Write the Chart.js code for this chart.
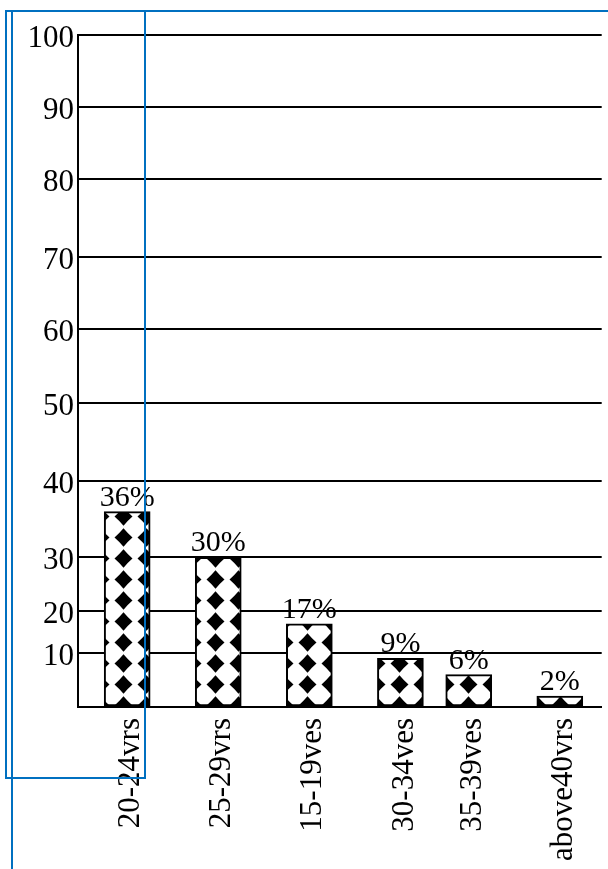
<!DOCTYPE html>
<html>
<head>
<meta charset="utf-8">
<script src="https://cdn.jsdelivr.net/npm/chart.js@4.4.1/dist/chart.umd.min.js"></script>
<style>
  html, body { margin: 0; padding: 0; background: #fff; overflow: hidden; }
  #wrap { position: relative; width: 608px; height: 869px; }
  canvas { display: block; }
  .frame { position: absolute; box-sizing: border-box; border: 2px solid #0070c0; }
</style>
</head>
<body>
<div id="wrap">
  <canvas id="ageChart" width="608" height="869"></canvas>
  <div class="frame" style="left:5px;top:10px;width:141px;height:769px"></div>
  <div class="frame" style="left:11px;top:10px;width:640px;height:900px"></div>
</div>
<script>
const ageGroups = ["20-24vrs", "25-29vrs", "15-19ves", "30-34ves", "35-39ves", "above40vrs"];
const shares = [36, 30, 17, 9, 6, 2];
const yTicks = [0, 10, 20, 30, 40, 50, 60, 70, 80, 90, 100];

// the original axis is hand drawn, so the ticks are not evenly spaced:
// a linear scale that interpolates between the tick positions
class StepScale extends Chart.LinearScale {
  getPixelForValue(value) {
    if (value === null || isNaN(value)) return NaN;
    const vals = this.options.stopValues;
    const pos = this.options.stopPositions;
    let i = 1;
    while (i < vals.length - 1 && value > vals[i]) i++;
    const t = (value - vals[i - 1]) / (vals[i] - vals[i - 1]);
    return this.getPixelForDecimal(pos[i - 1] + t * (pos[i] - pos[i - 1]));
  }
  getValueForPixel(pixel) {
    const d = this.getDecimalForPixel(pixel);
    const vals = this.options.stopValues;
    const pos = this.options.stopPositions;
    let i = 1;
    while (i < pos.length - 1 && d > pos[i]) i++;
    const t = (d - pos[i - 1]) / (pos[i] - pos[i - 1]);
    return vals[i - 1] + t * (vals[i] - vals[i - 1]);
  }
}
StepScale.id = "step";
StepScale.defaults = Chart.LinearScale.defaults;

// category axis where the gap between two categories can differ
class GapCategoryScale extends Chart.CategoryScale {
  getPixelForValue(value) {
    if (typeof value !== "number") value = this.parse(value);
    if (value === null) return NaN;
    const gaps = this.options.gaps;
    const [padLeft, padRight] = this.options.edges;
    let pos = padLeft;
    let total = padLeft + padRight;
    for (let i = 0; i < this.getLabels().length - 1; i++) {
      if (i < value) pos += gaps[i];
      total += gaps[i];
    }
    return this.getPixelForDecimal(pos / total);
  }
}
GapCategoryScale.id = "gapcategory";
GapCategoryScale.defaults = Chart.CategoryScale.defaults;

Chart.register(StepScale, GapCategoryScale);

// black diamonds with slightly hollow sides, soft edges
function makePattern(ctx) {
	const w = 23;
	const h = 21;
	const tile = document.createElement("canvas");
	tile.width = w;
	tile.height = h;
	const t = tile.getContext("2d");
	t.fillStyle = "#fff";
	t.fillRect(0, 0, w, h);
	t.filter = "blur(0.6px)";
	t.fillStyle = "#000";
	const cx = w / 2;
	const cy = h / 2;
	const rx = 9;
	const ry = 9.2;
	const k = 0.46;
	t.beginPath();
	t.moveTo(cx, cy - ry);
	t.quadraticCurveTo(cx + rx * k, cy - ry * k, cx + rx, cy);
	t.quadraticCurveTo(cx + rx * k, cy + ry * k, cx, cy + ry);
	t.quadraticCurveTo(cx - rx * k, cy + ry * k, cx - rx, cy);
	t.quadraticCurveTo(cx - rx * k, cy - ry * k, cx, cy - ry);
	t.fill();
	const pattern = ctx.createPattern(tile, "repeat");
	pattern.setTransform(new DOMMatrix([1, 0, 0, 1, -3, 2]));
	return pattern;
}

const percentLabels = {
	id: "percentLabels",
	afterDatasetsDraw(chart) {
		const ctx = chart.ctx;
		const meta = chart.getDatasetMeta(0);
		ctx.save();
		ctx.font = '30px "Liberation Serif"';
		ctx.fillStyle = "#000";
		ctx.textAlign = "center";
		ctx.textBaseline = "alphabetic";
		meta.data.forEach((bar, i) => {
			ctx.fillText(shares[i] + "%", bar.x, bar.y - 6);
		});
		ctx.restore();
	},
};

const ctx = document.getElementById("ageChart").getContext("2d");

Chart.defaults.font.family = '"Liberation Serif", "Times New Roman", serif';
Chart.defaults.color = "#000";

new Chart(ctx, {
	type: "bar",
	data: {
		labels: ageGroups,
		datasets: [
			{
				data: shares,
				backgroundColor: makePattern(ctx),
				borderColor: "#000",
				borderWidth: 2,
				borderSkipped: false,
				barThickness: 46,
			},
		],
	},
	options: {
		responsive: false,
		animation: false,
		layout: {
			padding: { top: 35, right: 0, bottom: 0, left: 0 },
		},
		plugins: {
			legend: { display: false },
			tooltip: { enabled: false },
		},
		scales: {
			x: {
				type: "gapcategory",
				gaps: [1, 1, 1, 0.75, 1],
				edges: [0.54, 0.46],
				grid: { display: false, drawTicks: false },
				border: { display: true, color: "#000", width: 2 },
				ticks: {
					autoSkip: false,
					minRotation: 90,
					maxRotation: 90,
					padding: 11,
					labelOffset: 4,
					font: { size: 31 },
				},
				afterFit: (scale) => {
					scale.height = 162;
				},
			},
			y: {
				type: "step",
				min: 0,
				max: 100,
				stopValues: yTicks,
				stopPositions: [0, 0.0804, 0.1424, 0.2228, 0.3359, 0.4524, 0.5625, 0.6702, 0.7853, 0.8924, 1],
				afterBuildTicks: (scale) => {
					scale.ticks = yTicks.map((v) => ({ value: v }));
				},
				grid: { color: "#000", lineWidth: 2, drawTicks: false },
				border: { display: true, color: "#000", width: 2 },
				ticks: {
					padding: 4,
					labelOffset: 4,
					font: { size: 31 },
					callback: (v) => (v === 0 ? "" : v),
				},
				afterFit: (scale) => {
					scale.width = 78;
				},
			},
		},
	},
	plugins: [percentLabels],
});
</script>
</body>
</html>
